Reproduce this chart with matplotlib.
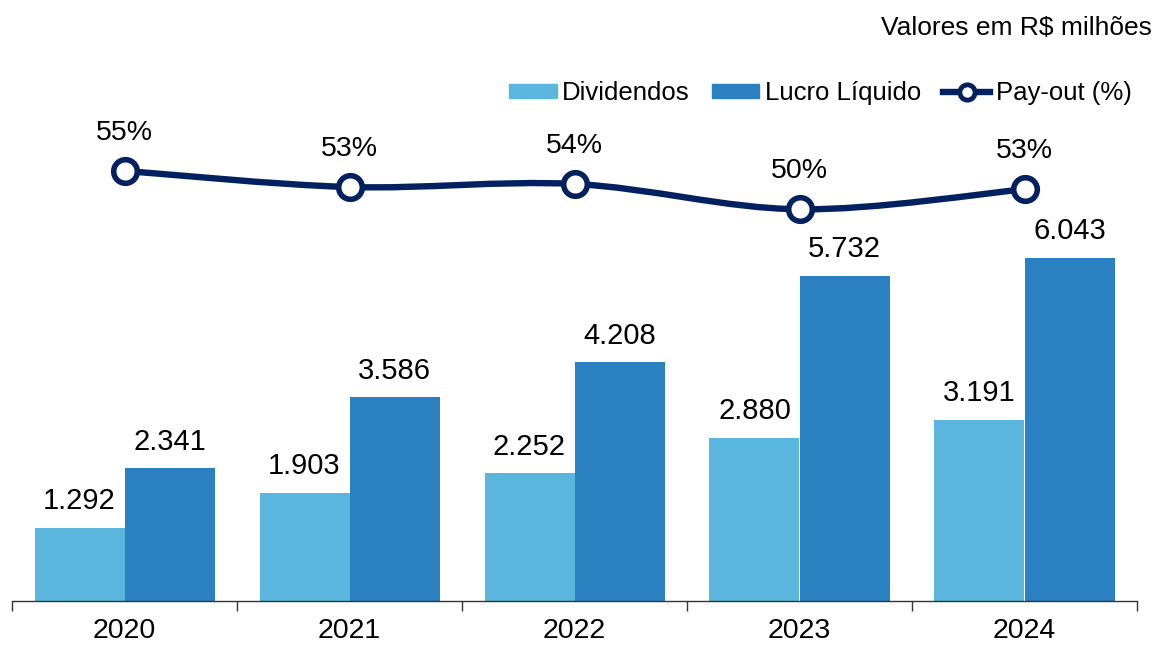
import numpy as np
import matplotlib.pyplot as plt
from matplotlib.path import Path
from matplotlib.patches import PathPatch, Patch
from matplotlib.lines import Line2D

plt.rcParams['font.family'] = ['Liberation Sans', 'DejaVu Sans']

# dados (R$ milhões)
anos = ['2020', '2021', '2022', '2023', '2024']
dividendos = [1292, 1903, 2252, 2880, 3191]
lucro = [2341, 3586, 4208, 5732, 6043]
payout = [55.2, 53.1, 53.5, 50.2, 52.8]
payout_rotulos = ['55%', '53%', '54%', '50%', '53%']

cor_div = '#5AB6DD'
cor_lucro = '#2A80C0'
cor_linha = '#03215E'

W, H = 1154, 646
fig = plt.figure(figsize=(W / 100, H / 100), dpi=100)
ax = fig.add_axes([12 / W, 1 - 601 / H, (1137 - 12) / W, (601 - 60) / H])

x = np.arange(len(anos))
larg = 0.4
b1 = ax.bar(x - larg / 2, dividendos, larg, color=cor_div, zorder=2)
b2 = ax.bar(x + larg / 2, lucro, larg, color=cor_lucro, zorder=2)

def fmt(v):
    return f'{v:,}'.replace(',', '.')

for barras, vals in ((b1, dividendos), (b2, lucro)):
    for r, v in zip(barras, vals):
        ax.annotate(fmt(v), (r.get_x() + r.get_width() / 2, v),
                    xytext=(0, 9), textcoords='offset points',
                    ha='center', va='bottom', fontsize=21)

ax.set_xlim(-0.5, len(anos) - 0.5)
ax.set_ylim(0, 9531)
ax.set_yticks([])
for s in ('top', 'right', 'left'):
    ax.spines[s].set_visible(False)
ax.spines['bottom'].set_color('#333333')
ax.spines['bottom'].set_linewidth(1)

# ticks nas divisões, rótulos no centro
ax.set_xticks(np.arange(-0.5, len(anos), 1.0))
ax.set_xticklabels([])
ax.tick_params(axis='x', which='major', length=7, width=1, color='#333333', direction='out')
ax.set_xticks(x, minor=True)
ax.set_xticklabels(anos, minor=True, fontsize=20.5)
ax.tick_params(axis='x', which='minor', length=0, pad=12)

# linha de pay-out suavizada
ax2 = ax.twinx()
ax2.set_ylim(-0.8, 69.64)
ax2.axis('off')
pts = np.column_stack([x, payout]).astype(float)
verts = [tuple(pts[0])]
codes = [Path.MOVETO]
n = len(pts)
for i in range(n - 1):
    p0 = pts[i - 1] if i > 0 else pts[i]
    p3 = pts[i + 2] if i + 2 < n else pts[i + 1]
    c1 = pts[i] + (pts[i + 1] - p0) / 6
    c2 = pts[i + 1] - (p3 - pts[i]) / 6
    verts += [tuple(c1), tuple(c2), tuple(pts[i + 1])]
    codes += [Path.CURVE4] * 3
ax2.add_patch(PathPatch(Path(verts, codes), fill=False, edgecolor=cor_linha,
                        lw=4.6, capstyle='round', zorder=3))
ax2.plot(x, payout, ls='none', marker='o', ms=17, mfc='white', mec=cor_linha,
         mew=4, zorder=4)
for xi, yi, lab in zip(x, payout, payout_rotulos):
    ax2.annotate(lab, (xi, yi), xytext=(0, 18), textcoords='offset points',
                 ha='center', va='bottom', fontsize=20.5)

fig.text(1152 / W, 1 - 28 / H, 'Valores em R$ milhões', ha='right', va='center',
         fontsize=19)

handles = [Patch(color=cor_div, label='Dividendos'),
           Patch(color=cor_lucro, label='Lucro Líquido'),
           Line2D([], [], color=cor_linha, lw=4.6, marker='o', ms=11, mfc='white',
                  mec=cor_linha, mew=3.5, label='Pay-out (%)')]
fig.legend(handles=handles, loc='center right', bbox_to_anchor=(1132 / W, 1 - 93 / H),
           ncol=3, frameon=False, fontsize=18.5, handlelength=1.85, handleheight=0.5,
           handletextpad=0.22, columnspacing=0.85, borderpad=0, borderaxespad=0)

fig.savefig('out.png', dpi=100)
